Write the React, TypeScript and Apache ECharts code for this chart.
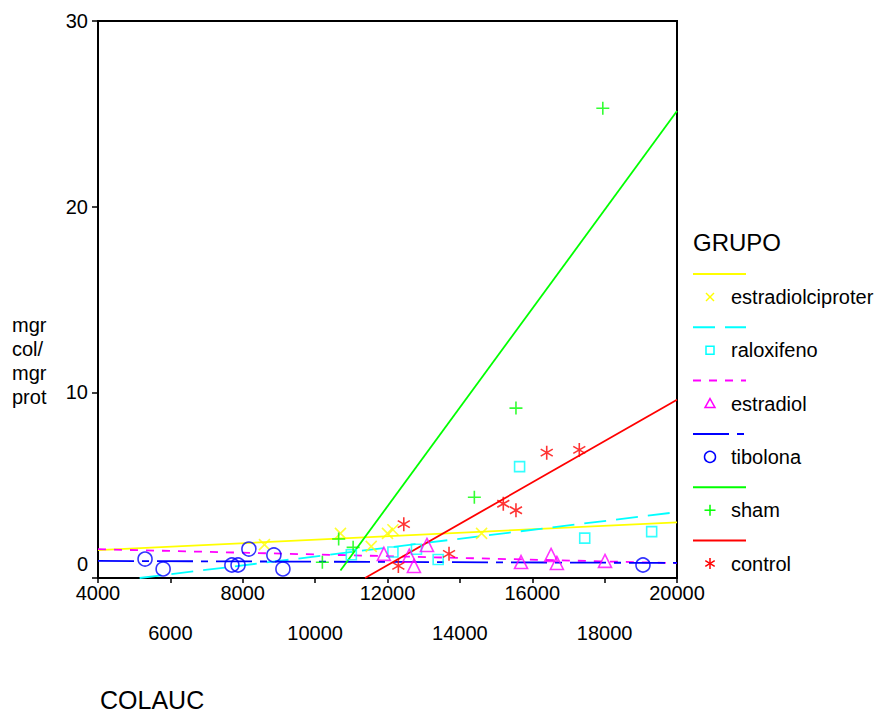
import React, { useEffect, useRef } from "react";
import * as echarts from "echarts";

// ---- data ----
const groupNames = ["estradiolciproter", "raloxifeno", "estradiol", "tibolona", "sham", "control"];
const groupColors = ["#FFFF00", "#00FFFF", "#FF00FF", "#0000FF", "#00FF00", "#FF0000"];

const estradiolciproterX = [8600, 10700, 11550, 12000, 12150, 14600];
const estradiolciproterY = [1.8, 2.4, 1.7, 2.4, 2.6, 2.4];

const raloxifenoX = [11000, 12150, 12800, 13400, 15650, 17450, 19300];
const raloxifenoY = [1.25, 1.4, 1.55, 1.0, 6.0, 2.15, 2.5];

const estradiolX = [11900, 12600, 12730, 13090, 15690, 16520, 16680, 18010];
const estradiolY = [1.3, 1.2, 0.65, 1.78, 0.86, 1.24, 0.81, 0.92];

const tibolonaX = [5300, 5800, 7700, 7870, 8170, 8860, 9110, 19060];
const tibolonaY = [1.02, 0.49, 0.7, 0.7, 1.56, 1.24, 0.49, 0.7];

const shamX = [10200, 10650, 11050, 14400, 15550, 17950];
const shamY = [0.85, 2.1, 1.65, 4.35, 9.15, 25.3];

const controlX = [12450, 12300, 13700, 15200, 15550, 16400, 17300];
const controlY = [2.9, 0.65, 1.3, 4.0, 3.65, 6.75, 6.9];

// fit lines: [x0, x1], [y0, y1]
const fitEstradiolciproterX = [4000, 20000];
const fitEstradiolciproterY = [1.5, 3.0];
const fitRaloxifenoX = [5150, 20000];
const fitRaloxifenoY = [0, 3.55];
const fitEstradiolX = [4000, 20000];
const fitEstradiolY = [1.55, 0.8];
const fitTibolonaX = [4000, 20000];
const fitTibolonaY = [0.92, 0.81];
const fitShamX = [10700, 20000];
const fitShamY = [0.4, 25.15];
const fitControlX = [11380, 20000];
const fitControlY = [0, 9.6];

const xTicks = [4000, 6000, 8000, 10000, 12000, 14000, 16000, 18000, 20000];
const yTicks = [0, 10, 20, 30];

const FONT = "'Liberation Sans', Arial, sans-serif";

const pts = (xs: number[], ys: number[]) => xs.map((x, i) => [x, ys[i]]);

const X_PATH = "path://M0,0L10,10M10,0L0,10";
const PLUS_PATH = "path://M5,0L5,10M0,5L10,5";
const AST_PATH = "path://M5,0L5,10M0.7,2.5L9.3,7.5M9.3,2.5L0.7,7.5";

const dashes: (number[] | "solid")[] = ["solid", [22, 10], [8, 8], [36, 8, 7, 8], "solid", "solid"];

export default function App() {
  const ref = useRef<HTMLDivElement>(null);
  useEffect(() => {
    if (!ref.current) return;
    const chart = echarts.init(ref.current, undefined, { renderer: "svg" });

    const scatterData = [
      pts(estradiolciproterX, estradiolciproterY),
      pts(raloxifenoX, raloxifenoY),
      pts(estradiolX, estradiolY),
      pts(tibolonaX, tibolonaY),
      pts(shamX, shamY),
      pts(controlX, controlY),
    ];
    const fitData = [
      pts(fitEstradiolciproterX, fitEstradiolciproterY),
      pts(fitRaloxifenoX, fitRaloxifenoY),
      pts(fitEstradiolX, fitEstradiolY),
      pts(fitTibolonaX, fitTibolonaY),
      pts(fitShamX, fitShamY),
      pts(fitControlX, fitControlY),
    ];
    const symbols = [X_PATH, "rect", "triangle", "circle", PLUS_PATH, AST_PATH];
    const sizes = [11, 10, 13, 14, 13, 14];

    const series: any[] = [];
    groupNames.forEach((name, i) => {
      series.push({
        type: "line",
        name: name + " fit",
        data: fitData[i],
        showSymbol: false,
        symbol: "none",
        lineStyle: { color: groupColors[i], width: 1.8, type: dashes[i] },
        z: 2,
      });
    });
    groupNames.forEach((name, i) => {
      series.push({
        type: "scatter",
        name,
        data: scatterData[i],
        symbol: symbols[i],
        symbolSize: sizes[i],
        symbolKeepAspect: true,
        itemStyle: {
          color: "rgba(0,0,0,0)",
          borderColor: groupColors[i],
          borderWidth: 1.6,
        },
        z: 3,
      });
    });

    // legend graphic
    const legend: any[] = [
      {
        type: "text",
        x: 693,
        y: 242,
        style: { text: "GRUPO", font: `24px ${FONT}`, fill: "#000", verticalAlign: "middle" },
      },
    ];
    const step = 53.3;
    groupNames.forEach((name, i) => {
      const ly = 274 + i * step;
      const my = 297 + i * step;
      const c = groupColors[i];
      const d = dashes[i];
      legend.push({
        type: "line",
        shape: { x1: 693, y1: ly, x2: 746, y2: ly },
        style: { stroke: c, lineWidth: 2, lineDash: d === "solid" ? null : d },
      });
      const mx = 710;
      const st = { stroke: c, lineWidth: 1.5, fill: "none" };
      if (i === 0) {
        legend.push({ type: "line", shape: { x1: mx - 4, y1: my - 4, x2: mx + 4, y2: my + 4 }, style: st });
        legend.push({ type: "line", shape: { x1: mx + 4, y1: my - 4, x2: mx - 4, y2: my + 4 }, style: st });
      } else if (i === 1) {
        legend.push({ type: "rect", shape: { x: mx - 4, y: my - 4, width: 8, height: 8 }, style: st });
      } else if (i === 2) {
        legend.push({
          type: "polygon",
          shape: { points: [[mx, my - 5], [mx + 5, my + 4], [mx - 5, my + 4]] },
          style: st,
        });
      } else if (i === 3) {
        legend.push({ type: "circle", shape: { cx: mx, cy: my, r: 5.5 }, style: st });
      } else if (i === 4) {
        legend.push({ type: "line", shape: { x1: mx - 5.5, y1: my, x2: mx + 5.5, y2: my }, style: st });
        legend.push({ type: "line", shape: { x1: mx, y1: my - 5.5, x2: mx, y2: my + 5.5 }, style: st });
      } else {
        legend.push({ type: "line", shape: { x1: mx, y1: my - 5.5, x2: mx, y2: my + 5.5 }, style: st });
        legend.push({ type: "line", shape: { x1: mx - 4.7, y1: my - 2.8, x2: mx + 4.7, y2: my + 2.8 }, style: st });
        legend.push({ type: "line", shape: { x1: mx + 4.7, y1: my - 2.8, x2: mx - 4.7, y2: my + 2.8 }, style: st });
      }
      legend.push({
        type: "text",
        x: 731,
        y: my,
        style: { text: name, font: `20px ${FONT}`, fill: "#000", verticalAlign: "middle", align: "left" },
      });
    });

    legend.push({
      type: "text",
      x: 12,
      y: 313,
      style: {
        text: "mgr\ncol/\nmgr\nprot",
        font: `20px ${FONT}`,
        lineHeight: 24,
        fill: "#000",
        verticalAlign: "top",
      },
    });
    legend.push({
      type: "text",
      x: 100,
      y: 700,
      style: { text: "COLAUC", font: `25px ${FONT}`, fill: "#000", verticalAlign: "middle" },
    });

    chart.setOption({
      animation: false,
      backgroundColor: "#fff",
      grid: {
        left: 98,
        right: 209,
        top: 21,
        bottom: 137,
        show: true,
        borderColor: "#000",
        borderWidth: 2,
        backgroundColor: "transparent",
      },
      xAxis: {
        type: "value",
        min: xTicks[0],
        max: xTicks[xTicks.length - 1],
        interval: 2000,
        axisLine: { show: true, lineStyle: { color: "#000", width: 2 } },
        axisTick: { show: true, inside: false, length: 5, lineStyle: { color: "#000", width: 1.5 } },
        splitLine: { show: false },
        axisLabel: {
          margin: 4,
          color: "#000",
          showMinLabel: true,
          showMaxLabel: true,
          formatter: (v: number) => ((v / 2000) % 2 === 1 ? `{b|${v}}` : `{t|${v}}`),
          rich: {
            t: { fontSize: 20, fontFamily: FONT, color: "#000", lineHeight: 22 },
            b: { fontSize: 20, fontFamily: FONT, color: "#000", lineHeight: 102 },
          },
        },
      },
      yAxis: {
        type: "value",
        min: yTicks[0],
        max: yTicks[yTicks.length - 1],
        interval: 10,
        axisLine: { show: true, lineStyle: { color: "#000", width: 2 } },
        axisTick: { show: true, inside: false, length: 6, lineStyle: { color: "#000", width: 1.5 } },
        splitLine: { show: false },
        axisLabel: {
          margin: 10,
          color: "#000",
          formatter: (v: number) => (v === 0 ? `{z|${v}}` : `{n|${v}}`),
          rich: {
            n: { fontSize: 20, fontFamily: FONT, color: "#000" },
            z: { fontSize: 20, fontFamily: FONT, color: "#000", padding: [0, 0, 28, 0] },
          },
        },
      },
      graphic: legend,
      series,
    });
    return () => chart.dispose();
  }, []);
  return (
    <div
      ref={ref}
      style={{ position: "fixed", left: 0, top: 0, width: 886, height: 715, background: "#fff" }}
    />
  );
}
